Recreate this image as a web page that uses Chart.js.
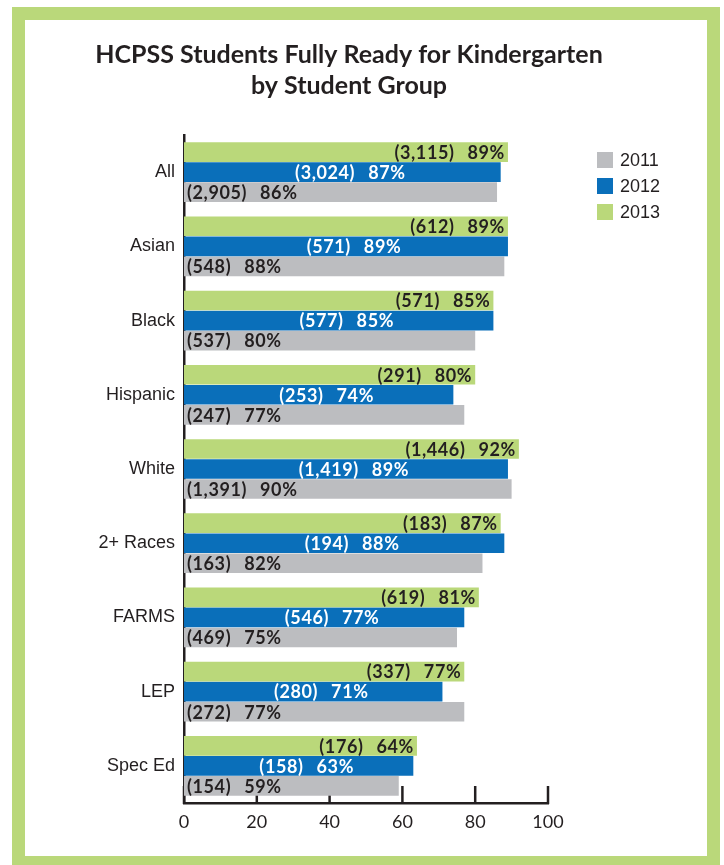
<!DOCTYPE html>
<html><head><meta charset="utf-8">
<script src="https://cdn.jsdelivr.net/npm/chart.js@4"></script>
<style>
html,body{margin:0;padding:0;background:#fff;width:724px;height:865px;overflow:hidden;}
#frame{position:absolute;left:12px;top:7px;width:708px;height:862px;box-sizing:border-box;border:13px solid #bad87a;}
#wrap{position:absolute;left:0;top:0;width:724px;height:865px;}
</style></head><body>
<div id="frame"></div>
<div id="wrap"><canvas id="c" width="724" height="865"></canvas></div>
<script>
const titleLines = ['HCPSS Students Fully Ready for Kindergarten', 'by Student Group'];
const categories = ['All', 'Asian', 'Black', 'Hispanic', 'White', '2+ Races', 'FARMS', 'LEP', 'Spec Ed'];
const years = ['2011', '2012', '2013'];
const pct2011 = [86, 88, 80, 77, 90, 82, 75, 77, 59];
const pct2012 = [87, 89, 85, 74, 89, 88, 77, 71, 63];
const pct2013 = [89, 89, 85, 80, 92, 87, 81, 77, 64];
const count2011 = ['2,905', '548', '537', '247', '1,391', '163', '469', '272', '154'];
const count2012 = ['3,024', '571', '577', '253', '1,419', '194', '546', '280', '158'];
const count2013 = ['3,115', '612', '571', '291', '1,446', '183', '619', '337', '176'];
const xTicks = [0, 20, 40, 60, 80, 100];

const COL = {'2011': '#bcbdc0', '2012': '#0a6fba', '2013': '#bad87a'};
const DARK = '#231f20';

const titlePlugin = {
  id: 'customTitle',
  beforeDraw(chart) {
    const ctx = chart.ctx;
    ctx.save();
    ctx.fillStyle = DARK;
    ctx.font = '700 25px Lato';
    ctx.textAlign = 'center';
    ctx.textBaseline = 'middle';
    ctx.fillText(titleLines[0], 349, 55);
    ctx.fillText(titleLines[1], 349, 86);
    ctx.restore();
  }
};

function drawLabel(ctx, a, b, x, y, align) {
  const gap = 13;
  const wa = ctx.measureText(a).width;
  const wb = ctx.measureText(b).width;
  const total = wa + gap + wb;
  let start;
  if (align === 'right') start = x - total;
  else if (align === 'center') start = x - total / 2;
  else start = x;
  ctx.textAlign = 'left';
  ctx.fillText(a, start, y);
  ctx.fillText(b, start + wa + gap, y);
}

const labelPlugin = {
  id: 'barLabels',
  afterDatasetsDraw(chart) {
    const ctx = chart.ctx;
    ctx.save();
    ctx.font = '700 18px Lato';
    if ('letterSpacing' in ctx) ctx.letterSpacing = '0.6px';
    ctx.textBaseline = 'middle';
    chart.data.datasets.forEach((ds, di) => {
      const meta = chart.getDatasetMeta(di);
      meta.data.forEach((bar, i) => {
        const a = '(' + ds.counts[i] + ')';
        const b = ds.data[i] + '%';
        const y = bar.y + 1;
        if (ds.label === '2013') {
          ctx.fillStyle = DARK;
          drawLabel(ctx, a, b, bar.x - 3, y, 'right');
        } else if (ds.label === '2012') {
          ctx.fillStyle = '#ffffff';
          drawLabel(ctx, a, b, (bar.base + bar.x) / 2 + 8, y, 'center');
        } else {
          ctx.fillStyle = DARK;
          drawLabel(ctx, a, b, bar.base + 3, y, 'left');
        }
      });
    });
    ctx.restore();
  }
};

const tickPlugin = {
  id: 'innerTicks',
  beforeDatasetsDraw(chart) {
    const xs = chart.scales.x;
    const ctx = chart.ctx;
    const yb = chart.chartArea.bottom;
    ctx.save();
    ctx.strokeStyle = DARK;
    ctx.lineWidth = 2.5;
    xTicks.forEach(v => {
      const px = xs.getPixelForValue(v);
      ctx.beginPath();
      ctx.moveTo(px, yb + 1);
      ctx.lineTo(px, yb - 17);
      ctx.stroke();
    });
    ctx.restore();
  }
};

const legendPlugin = {
  id: 'customLegend',
  afterDraw(chart) {
    const ctx = chart.ctx;
    ctx.save();
    ctx.font = '18px "Liberation Sans"';
    ctx.textBaseline = 'middle';
    ctx.textAlign = 'left';
    const ys = [160, 186, 212];
    years.forEach((yr, k) => {
      ctx.fillStyle = COL[yr];
      ctx.fillRect(597, ys[k] - 8, 16, 16);
      ctx.fillStyle = DARK;
      ctx.fillText(yr, 620, ys[k] + 1);
    });
    ctx.restore();
  }
};

new Chart(document.getElementById('c'), {
  type: 'bar',
  data: {
    labels: categories,
    datasets: [
      {label: '2013', data: pct2013, counts: count2013, backgroundColor: COL['2013']},
      {label: '2012', data: pct2012, counts: count2012, backgroundColor: COL['2012']},
      {label: '2011', data: pct2011, counts: count2011, backgroundColor: COL['2011']}
    ]
  },
  options: {
    indexAxis: 'y',
    responsive: false,
    animation: false,
    categoryPercentage: 0.81,
    barPercentage: 0.98,
    layout: {padding: {left: 25, right: 176, top: 135, bottom: 12}},
    plugins: {legend: {display: false}, tooltip: {enabled: false}, title: {display: false}},
    scales: {
      y: {
        grid: {display: false, drawTicks: false, tickLength: 0},
        border: {display: true, color: DARK, width: 2.5},
        ticks: {padding: 9, font: {family: 'Liberation Sans', size: 18}, color: DARK},
        afterFit(s) { s.width = 159; }
      },
      x: {
        min: 0, max: 100,
        afterBuildTicks(s) { s.ticks = xTicks.map(v => ({value: v})); },
        grid: {display: false, drawTicks: false, tickLength: 0},
        border: {display: true, color: DARK, width: 2.5},
        ticks: {padding: 8, font: {family: 'Lato', size: 18}, color: DARK},
        afterFit(s) { s.height = 50; }
      }
    }
  },
  plugins: [titlePlugin, labelPlugin, tickPlugin, legendPlugin]
});
</script>
</body></html>
